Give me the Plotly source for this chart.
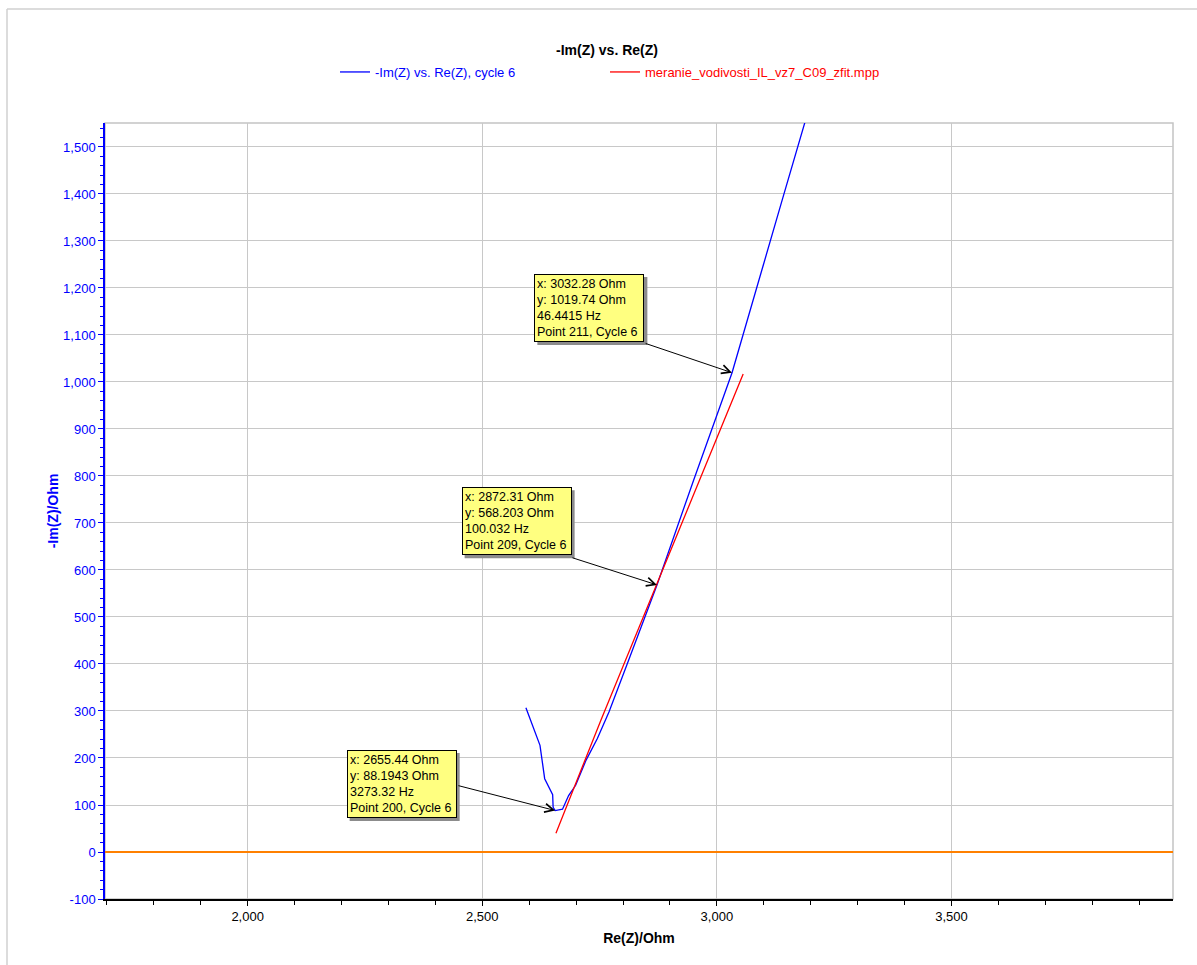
import plotly.graph_objects as go

# Cycle 6 impedance spectrum (points 195-213)
point_no = list(range(195, 214))
re_z = [2593, 2623, 2633, 2650, 2651, 2655.44, 2671, 2684, 2699, 2721,
        2745, 2770, 2805, 2838, 2872.31, 2950, 3032.28, 3140, 3260]
im_z = [307, 227, 156, 122, 95, 88.1943, 91, 120, 142, 195,
        241, 298, 390, 478, 568.203, 790, 1019.74, 1390, 1800]

# Fitted model curve
fit_re = [2657, 2688, 2719, 2753, 2788, 2830, 2872, 2915, 2962, 3008, 3056]
fit_im = [40, 118, 197, 281, 366, 468, 568, 673, 787, 900, 1017]

# Marked points: values, frequency, point number
mark_re = [2655.44, 2872.31, 3032.28]
mark_im = [88.1943, 568.203, 1019.74]
mark_hz = [3273.32, 100.032, 46.4415]
mark_pt = [200, 209, 211]
# label box corner and arrow tail (data units)
box_x = [2211, 2456, 2611]
box_y = [217, 776, 1230]
tail_x = [2446, 2689, 2845]
tail_y = [142, 627, 1083]

x_ticks = [2000, 2500, 3000, 3500]
y_ticks = list(range(-100, 1501, 100))

FONT = "Arial, 'Liberation Sans', sans-serif"
BLUE = "#0000FF"
W, H = 1197, 965
ML, MR, MT, MB = 105, 24, 123, 66
PW, PH = W - ML - MR, H - MT - MB
BOX_W, BOX_H, PAD = 104, 62, 2

fig = go.Figure()
fig.add_trace(go.Scatter(x=re_z, y=im_z, mode="lines",
                         line=dict(color=BLUE, width=1.3), showlegend=True,
                         name="-Im(Z) vs. Re(Z), cycle 6", legend="legend"))
fig.add_trace(go.Scatter(x=fit_re, y=fit_im, mode="lines",
                         line=dict(color="#FF0000", width=1.3), showlegend=True,
                         name="meranie_vodivosti_IL_vz7_C09_zfit.mpp", legend="legend2"))

annotations = []
shapes = []
for i in range(len(mark_re)):
    txt = (f"x: {mark_re[i]:.6g} Ohm<br>y: {mark_im[i]:.6g} Ohm<br>"
           f"{mark_hz[i]:.6g} Hz<br>Point {mark_pt[i]}, Cycle 6")
    full_w = BOX_W + 2 * PAD + 2
    full_h = BOX_H + 2 * PAD + 2
    # drop shadow behind the label box
    shapes.append(dict(type="rect", xref="x", yref="y",
                       xsizemode="pixel", ysizemode="pixel",
                       xanchor=box_x[i], yanchor=box_y[i],
                       x0=3, x1=3 + full_w, y0=-3, y1=-3 - full_h,
                       fillcolor="#8C8C8C", line=dict(width=0), layer="above"))
    annotations.append(dict(x=box_x[i], y=box_y[i], xref="x", yref="y",
                            xanchor="left", yanchor="top", text=txt, align="left",
                            valign="middle", width=BOX_W, height=BOX_H,
                            showarrow=False, bgcolor="#FFFF80", bordercolor="#000000",
                            borderwidth=1, borderpad=PAD,
                            font=dict(family=FONT, size=12.5, color="#000000")))
    annotations.append(dict(x=mark_re[i], y=mark_im[i], xref="x", yref="y",
                            ax=tail_x[i], ay=tail_y[i], axref="x", ayref="y",
                            text="", showarrow=True, arrowhead=5, arrowsize=1.7,
                            arrowwidth=1, arrowcolor="#000000", standoff=0))

# plot frame and outer frame edges
fx = (7 - ML) / PW
fy = 1 + (MT - 9) / PH
shapes += [
    dict(type="rect", xref="paper", yref="paper", x0=0, x1=1, y0=0, y1=1,
         line=dict(color="#C4C4C4", width=1.5), layer="below"),
    dict(type="line", xref="paper", yref="paper", x0=fx, x1=fx, y0=fy, y1=-0.2,
         line=dict(color="#D0D0D0", width=1.5)),
    dict(type="line", xref="paper", yref="paper", x0=fx, x1=1.2, y0=fy, y1=fy,
         line=dict(color="#D0D0D0", width=1.5)),
]

fig.update_layout(
    width=W, height=H,
    margin=dict(l=ML, r=MR, t=MT, b=MB),
    paper_bgcolor="white", plot_bgcolor="white",
    font=dict(family=FONT, size=13, color="#000000"),
    showlegend=True,
    title=dict(text="<b>-Im(Z) vs. Re(Z)</b>", x=607 / W, y=1 - 50 / H,
               xref="container", yref="container", xanchor="center", yanchor="middle",
               font=dict(family=FONT, size=14, color="#000000")),
    legend=dict(orientation="h", xref="container", yref="container",
                x=335 / W, y=1 - 72 / H, xanchor="left", yanchor="middle",
                font=dict(family=FONT, size=13, color=BLUE), bgcolor="rgba(0,0,0,0)"),
    legend2=dict(orientation="h", xref="container", yref="container",
                 x=605 / W, y=1 - 72 / H, xanchor="left", yanchor="middle",
                 font=dict(family=FONT, size=13, color="#FF0000"), bgcolor="rgba(0,0,0,0)"),
    annotations=annotations,
    shapes=shapes,
)

fig.update_xaxes(
    range=[1696, 3972], tickmode="array", tickvals=x_ticks,
    ticktext=[f"{v:,}" for v in x_ticks],
    ticks="outside", ticklen=5, tickcolor="#000000", tickwidth=1,
    showline=True, linecolor="#000000", linewidth=1.5,
    showgrid=True, gridcolor="#C8C8C8", gridwidth=1, zeroline=False,
    minor=dict(tickmode="linear", tick0=0, dtick=100, ticks="outside",
               ticklen=4, tickcolor="#000000", showgrid=False),
    tickfont=dict(family=FONT, size=13, color="#000000"),
    title=dict(text="<b>Re(Z)/Ohm</b>", standoff=10,
               font=dict(family=FONT, size=14, color="#000000")),
)
fig.update_yaxes(
    range=[-100, 1551], tickmode="array", tickvals=y_ticks,
    ticktext=[f"{v:,}" for v in y_ticks],
    ticks="outside", ticklen=5, tickcolor=BLUE, tickwidth=1,
    showline=True, linecolor=BLUE, linewidth=1.5,
    showgrid=True, gridcolor="#C8C8C8", gridwidth=1,
    zeroline=True, zerolinecolor="#FF8000", zerolinewidth=1.5,
    minor=dict(tickmode="linear", tick0=0, dtick=20, ticks="outside",
               ticklen=3, tickcolor=BLUE, showgrid=False),
    tickfont=dict(family=FONT, size=13, color=BLUE),
    title=dict(text="<b>-Im(Z)/Ohm</b>", standoff=1,
               font=dict(family=FONT, size=14, color=BLUE)),
)

fig.write_html("out.html")
